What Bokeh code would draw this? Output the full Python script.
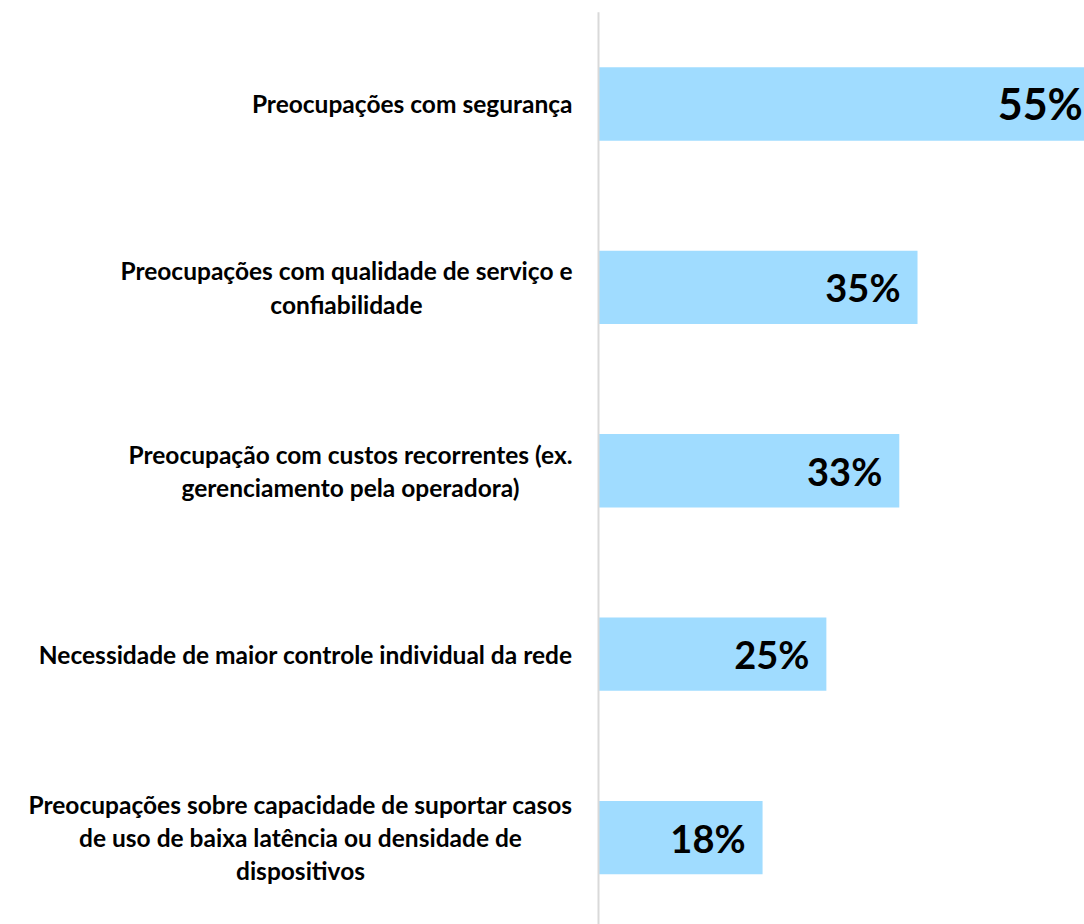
from bokeh.plotting import figure
from bokeh.models import Range1d, ColumnDataSource
from bokeh.core.properties import value
from bokeh.embed import file_html
from bokeh.resources import INLINE

categories = [
    "Preocupações com segurança",
    "Preocupações com qualidade de serviço e\nconfiabilidade",
    "Preocupação com custos recorrentes (ex.\ngerenciamento pela operadora)",
    "Necessidade de maior controle individual da rede",
    "Preocupações sobre capacidade de suportar casos\nde uso de baixa latência ou densidade de\ndispositivos",
]
values = [55, 35, 33, 25, 18]
value_labels = [f"{v}%" for v in values]
label_sizes = ["43px", "38px", "38px", "38px", "38px"]

idx = list(range(len(categories)))
src = ColumnDataSource(dict(y=idx, v=values, cat=categories, lab=value_labels,
                            fs=label_sizes, zero=[0] * len(idx)))

FONT = "Lato"

p = figure(width=1084, height=924, output_backend="svg", toolbar_location=None,
           x_range=Range1d(-65.61, 53.32), y_range=Range1d(4.474, -0.5643),
           min_border=0, outline_line_color=None)
p.xaxis.visible = False
p.yaxis.visible = False
p.grid.visible = False
p.background_fill_color = "white"
p.border_fill_color = "white"

p.hbar(y="y", left=0, right="v", height=0.4, source=src,
       fill_color="#A0DCFF", line_color=None)

p.segment(x0=0, y0=-0.5, x1=0, y1=4.6, line_color="#D9D9D9", line_width=2)

p.text(x="zero", y="y", text="cat", source=src, x_offset=-26,
       anchor="center_right", text_align="center", text_baseline="middle",
       text_font=value(FONT), text_font_style="bold", text_font_size="24.5px",
       text_line_height=1.15, text_color="black")

p.text(x="v", y="y", text="lab", source=src, x_offset=-17,
       text_align="right", text_baseline="middle",
       text_font=value(FONT), text_font_style="bold", text_font_size="fs",
       text_color="black")

open("out.html", "w").write(file_html(p, INLINE))
